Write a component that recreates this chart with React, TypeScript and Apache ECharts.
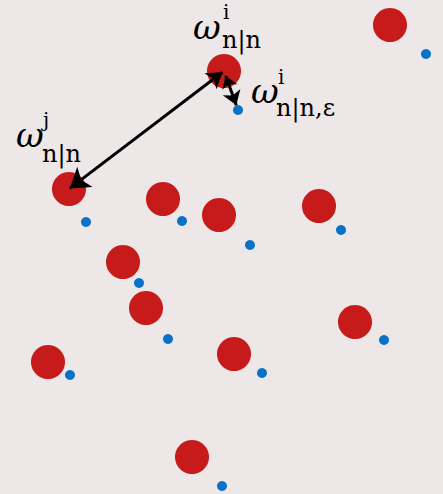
import React, { useEffect, useRef } from "react";
import * as echarts from "echarts";

// Particle positions (x to the right, y downward)
const particleX = [390, 224, 69, 163, 219, 319, 123, 146, 355, 48, 234, 192];
const particleY = [25, 71, 189, 199, 215, 206, 262, 308, 322, 362, 354, 457];
// Positions of the matching ε-perturbed points
const perturbedX = [426, 238, 86, 182, 250, 341, 139, 168, 384, 70, 262, 222];
const perturbedY = [54, 110, 222, 221, 245, 230, 283, 339, 340, 375, 373, 486];

const W = 443;
const H = 494;

// point along the segment a->b, moved `d` units from a
function along(a: number[], b: number[], d: number): number[] {
  const dx = b[0] - a[0];
  const dy = b[1] - a[1];
  const len = Math.hypot(dx, dy);
  return [a[0] + (dx / len) * d, a[1] + (dy / len) * d];
}

export default function App() {
  const ref = useRef<HTMLDivElement>(null);

  useEffect(() => {
    document.body.style.margin = "0";
    const chart = echarts.init(ref.current!, undefined, { renderer: "svg" });

    const red = particleX.map((x, k) => [x, particleY[k]]);
    const blue = perturbedX.map((x, k) => [x, perturbedY[k]]);

    const pI = red[1];
    const pJ = red[2];
    const eI = blue[1];
    const longArrow = [along(pI, pJ, 2), along(pJ, pI, 1)];
    const shortArrow = [along(pI, eI, 5), along(eI, pI, 5)];

    const font = "DejaVu Serif";
    const txt = (x: number, y: number, text: string, size: number, italic = false) => ({
      type: "text",
      x,
      y,
      z: 10,
      style: {
        text,
        fill: "#000",
        font: `${italic ? "italic " : ""}${size}px "${font}"`,
        align: "left",
        verticalAlign: "middle",
      },
    });

    const arrowLine = { color: "#000", width: 3, opacity: 1, type: "solid" };

    chart.setOption({
      animation: false,
      backgroundColor: "#ede7e7",
      grid: { left: 0, right: 0, top: 0, bottom: 0 },
      xAxis: { type: "value", min: 0, max: W, show: false },
      yAxis: { type: "value", min: 0, max: H, inverse: true, show: false },
      series: [
        {
          type: "scatter",
          data: red,
          symbolSize: 34,
          itemStyle: { color: "#c71a1a", opacity: 1 },
          z: 2,
        },
        {
          type: "scatter",
          data: blue,
          symbolSize: 10,
          itemStyle: { color: "#0a72c6", opacity: 1 },
          z: 2,
        },
        {
          type: "lines",
          coordinateSystem: "cartesian2d",
          z: 5,
          symbol: ["arrow", "arrow"],
          symbolSize: [15, 19],
          lineStyle: arrowLine,
          data: [{ coords: longArrow }],
        },
        {
          type: "lines",
          coordinateSystem: "cartesian2d",
          z: 5,
          symbol: ["arrow", "arrow"],
          symbolSize: [12, 14],
          lineStyle: arrowLine,
          data: [{ coords: shortArrow }],
        },
      ],
      graphic: [
        txt(193, 27, "ω", 34, true),
        txt(223, 12, "i", 20),
        txt(222, 40, "n|n", 24),

        txt(251, 91, "ω", 34, true),
        txt(278, 77, "i", 20),
        txt(276, 108, "n|n,ε", 24),

        txt(16, 135, "ω", 34, true),
        txt(43, 120, "j", 20),
        txt(42, 154, "n|n", 24),
      ],
    });

    return () => chart.dispose();
  }, []);

  return (
    <div
      ref={ref}
      style={{ position: "fixed", left: 0, top: 0, width: W, height: H }}
    />
  );
}
